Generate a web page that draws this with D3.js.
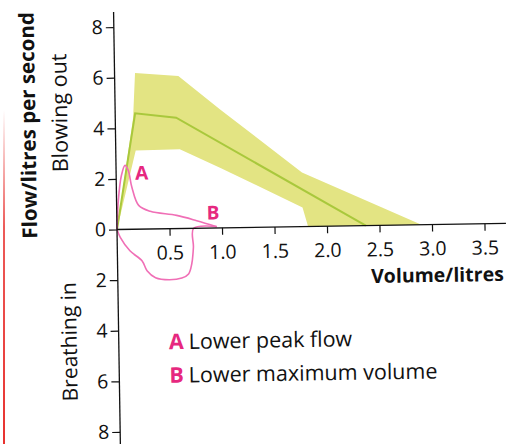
<!DOCTYPE html>
<html><head><meta charset="utf-8">
<script src="https://cdn.jsdelivr.net/npm/d3@7"></script>
<style>body{margin:0;background:#fff}svg{display:block}text{font-family:"Open Sans","Noto Sans",sans-serif}</style>
</head><body>
<svg id="c" width="519" height="444"></svg>
<script>
// Normal range band (volume, flow)
const bandUpper = [[0,0],[0.17,4.4],[0.195,6.17],[0.607,6.03],[1.0,4.68],[1.77,2.14],[2.9,0]];
const bandLower = [[0,0],[0.19,3.11],[0.61,3.13],[1.0,2.36],[1.77,0.75],[1.82,0],[2.9,0]];
// Mean line
const meanLine = [[0,0],[0.19,4.58],[0.58,4.38],[2.37,0]];
// Patient loop: expiration
const patientOut = [[0,0],[0.017,1.15],[0.05,2.13],[0.086,2.53],[0.116,2.33],[0.148,1.66],[0.21,0.94],[0.32,0.70],[0.57,0.52],[0.76,0.30],[0.95,0.05]];
// return along axis + inspiration
const patientIn = [[0.95,0.05],[0.73,0.0],[0.725,-0.75],[0.707,-1.40],[0.675,-1.80],[0.61,-1.96],[0.49,-2.02],[0.36,-1.93],[0.28,-1.65],[0.235,-1.26],[0.12,-0.85],[0.03,-0.31],[0,0]];
const xTicks = [0.5,1.0,1.5,2.0,2.5,3.0,3.5];
const yTicks = [-8,-6,-4,-2,0,2,4,6,8];
const legendItems = [["A","Lower peak flow"],["B","Lower maximum volume"]];

const svg = d3.select("#c");
// page edge decoration
const defs = svg.append("defs");
const gr = defs.append("linearGradient").attr("id","rg").attr("x1",0).attr("x2",0).attr("y1",0).attr("y2",1);
gr.append("stop").attr("offset","0%").attr("stop-color","#e8322f").attr("stop-opacity",0);
gr.append("stop").attr("offset","35%").attr("stop-color","#e8322f").attr("stop-opacity",0.8);
gr.append("stop").attr("offset","100%").attr("stop-color","#e8322f").attr("stop-opacity",1);
svg.append("rect").attr("x",3).attr("y",110).attr("width",2).attr("height",334).attr("fill","url(#rg)");

const ox = 117, oy = 229.5;
const g = svg.append("g").attr("transform",`rotate(-0.9,${ox},${oy})`);
const x = d3.scaleLinear().domain([0,3.5]).range([ox, ox+3.5*105]);
const y = d3.scaleLinear().domain([-8,8]).range([oy+8*25.3, oy-8*25.3]);

const line = d3.line().x(d=>x(d[0])).y(d=>y(d[1]));
const bandPoly = bandUpper.concat(bandLower.slice().reverse());
g.append("path").attr("d", line(bandPoly)+"Z").attr("fill","#e3e483").attr("stroke","none");
g.append("path").attr("d", line(meanLine)).attr("fill","none").attr("stroke","#a9c83c").attr("stroke-width",2);

const sm = d3.line().x(d=>x(d[0])).y(d=>y(d[1])).curve(d3.curveCatmullRom.alpha(0.5));
g.append("path").attr("d", sm(patientOut)).attr("fill","none").attr("stroke","#f06fb6").attr("stroke-width",1.6);
g.append("path").attr("d", sm(patientIn)).attr("fill","none").attr("stroke","#f06fb6").attr("stroke-width",1.6);

// axes
const yAxis = d3.axisLeft(y).tickValues(yTicks).tickFormat(d=>Math.abs(d)).tickSize(8).tickPadding(3);
const ya = g.append("g").attr("transform",`translate(${ox},0)`).call(yAxis);
ya.select(".domain").remove();
g.append("line").attr("x1",ox).attr("x2",ox).attr("y1",12).attr("y2",450).attr("stroke","#111").attr("stroke-width",1.3);
const xAxis = d3.axisBottom(x).tickValues(xTicks).tickFormat(d3.format(".1f")).tickSize(7).tickPadding(10);
const xa = g.append("g").attr("transform",`translate(0,${oy})`).call(xAxis);
xa.select(".domain").remove();
g.append("line").attr("x1",ox).attr("x2",506).attr("y1",oy).attr("y2",oy).attr("stroke","#111").attr("stroke-width",1.3);
g.selectAll(".tick line").attr("stroke","#111").attr("stroke-width",1.2);
g.selectAll(".tick text").attr("font-size",19.5).attr("fill","#111").attr("font-family","'Open Sans',sans-serif");

// titles
g.append("text").attr("transform","translate(37,124) rotate(-90)").attr("text-anchor","middle")
 .attr("font-size",20.5).attr("font-weight","bold").attr("fill","#111").text("Flow/litres per second");
g.append("text").attr("transform","translate(69,112) rotate(-90)").attr("text-anchor","middle")
 .attr("font-size",21.5).attr("fill","#111").text("Blowing out");
g.append("text").attr("transform","translate(75,341) rotate(-90)").attr("text-anchor","middle")
 .attr("font-size",21).attr("fill","#111").text("Breathing in");
g.append("text").attr("x",503).attr("y",287).attr("text-anchor","end")
 .attr("font-size",19.5).attr("font-weight","bold").attr("fill","#111").text("Volume/litres");

// curve labels
g.append("text").attr("x",136).attr("y",180).attr("font-size",19).attr("font-weight","bold").attr("fill","#e6287f").text("A");
g.append("text").attr("x",207).attr("y",221).attr("font-size",19).attr("font-weight","bold").attr("fill","#e6287f").text("B");

// legend
const lg = g.selectAll(".lg").data(legendItems).enter().append("text")
 .attr("x",167).attr("y",(d,i)=>350+i*33.5).attr("font-size",21.5).attr("fill","#111");
lg.append("tspan").attr("font-weight","bold").attr("fill","#e6287f").text(d=>d[0]);
lg.append("tspan").attr("dx",5).text(d=>d[1]);
</script>
</body></html>
